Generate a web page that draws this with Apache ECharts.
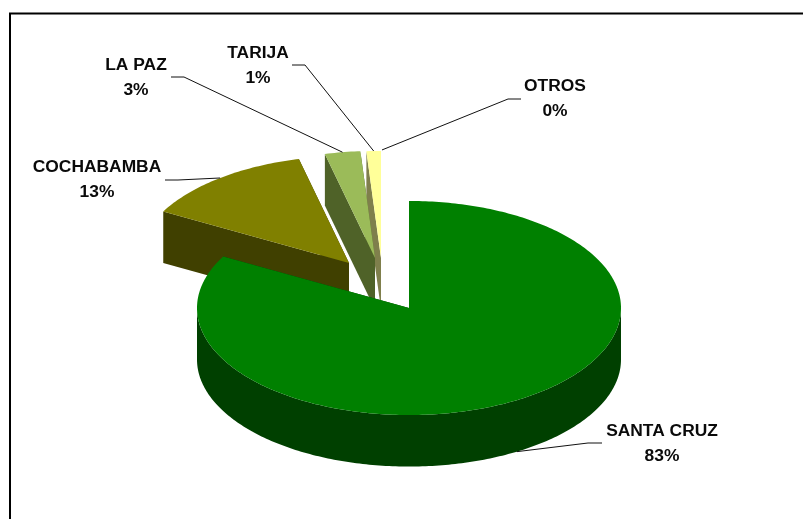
<!DOCTYPE html>
<html>
<head>
<meta charset="utf-8">
<style>
  html, body { margin: 0; padding: 0; background: #fff; }
  #chart { width: 803px; height: 519px; }
</style>
<script src="https://cdn.jsdelivr.net/npm/echarts@6/dist/echarts.min.js"></script>
</head>
<body>
<div id="chart"></div>
<script>
var categories = ['SANTA CRUZ', 'COCHABAMBA', 'LA PAZ', 'TARIJA', 'OTROS'];
// the labels show them rounded
var shares = [83, 13.2, 2.7, 1.1, 0];

var topColors = ['#008000', '#808000', '#9BBB59', '#FFFF99', '#FFFFCC'];
var sideColors = ['#004000', '#404000', '#4F6228', '#7F7F4C', '#7F7F66'];

// how far each slice is pulled out of the pie, px
var explode = [[0, 0], [-60, -45], [-34, -50], [-28, -50], [-27, -51]];
// centre of each two line label
var labelPos = [[662, 444], [97, 180], [136, 78], [258, 66], [555, 99]];
// start of each leader line: stub end, then elbow
var leaderStart = [
    [[602, 443], [588, 443]],
    [[165, 180], [178, 180]],
    [[171, 77], [184, 77]],
    [[292, 65], [305, 65]],
    [[521, 99], [508, 99]]
];

var tilt = 0.505;
var depth = 51.5;

var cum = 0;
var sliceData = shares.map(function (s) {
    var row = [1, cum, cum + s];
    cum += s;
    return row;
});

function renderSlice(params, api) {
    var i = params.dataIndex;
    var cs = params.coordSys;
    var ox = explode[i][0], oy = explode[i][1];
    var start = api.value(1), end = api.value(2);

    // polar scale gives the circle, squash it to the tilted ellipse
    function rim(v) {
        var p = api.coord([1, v]);
        return [p[0] + ox, cs.cy + (p[1] - cs.cy) * tilt + oy];
    }
    function arc(a, b) {
        var pts = [];
        for (var v = a; v < b; v += 0.25) pts.push(rim(v));
        pts.push(rim(b));
        return pts;
    }
    function down(p) {
        return [p[0], p[1] + depth];
    }

    var apex = [cs.cx + ox, cs.cy + oy];
    var z = shares.length - i;
    var children = [];

    if (end > start) {
        var side = { fill: sideColors[i] };
        var first = rim(start), last = rim(end);
        children.push({ type: 'polygon', z2: z, shape: { points: [last, apex, down(apex), down(last)] }, style: side });
        children.push({ type: 'polygon', z2: z, shape: { points: [first, apex, down(apex), down(first)] }, style: side });

        // only the front half of the outer wall can be seen
        var a = Math.max(start, 25), b = Math.min(end, 75);
        if (b > a) {
            var wall = arc(a, b);
            children.push({ type: 'polygon', z2: z, shape: { points: wall.concat(wall.map(down).reverse()) }, style: side });
        }
        children.push({ type: 'polygon', z2: z + 0.5, shape: { points: [apex].concat(arc(start, end)) }, style: { fill: topColors[i] } });
    }

    var mid = (start + end) / 2;
    var tip = rim(mid);
    if (mid > 25 && mid < 75) tip = down(tip);
    children.push({
        type: 'polyline',
        z2: 20,
        shape: { points: leaderStart[i].concat([tip]) },
        style: { fill: null, stroke: '#111', lineWidth: 1 }
    });
    children.push({
        type: 'text',
        z2: 20,
        x: labelPos[i][0],
        y: labelPos[i][1],
        style: {
            text: categories[i] + '\n' + Math.round(shares[i]) + '%',
            font: 'bold 17.4px "Liberation Sans", Arial, sans-serif',
            lineHeight: 25,
            fill: '#0a0a0a',
            textAlign: 'center',
            textVerticalAlign: 'middle'
        }
    });
    return { type: 'group', children: children };
}

var chart = echarts.init(document.getElementById('chart'));
chart.setOption({
    animation: false,
    backgroundColor: '#fff',
    polar: { center: [409, 308], radius: 212 },
    angleAxis: { type: 'value', min: 0, max: 100, startAngle: 90, show: false },
    radiusAxis: { type: 'value', min: 0, max: 1, show: false },
    graphic: [{
        type: 'polyline',
        silent: true,
        shape: { points: [[10, 519], [10, 13.5], [803, 13.5]] },
        style: { fill: null, stroke: '#000', lineWidth: 2 }
    }],
    series: [{
        type: 'custom',
        coordinateSystem: 'polar',
        silent: true,
        clip: false,
        encode: { radius: 0, angle: 1 },
        data: sliceData,
        renderItem: renderSlice
    }]
});
</script>
</body>
</html>
